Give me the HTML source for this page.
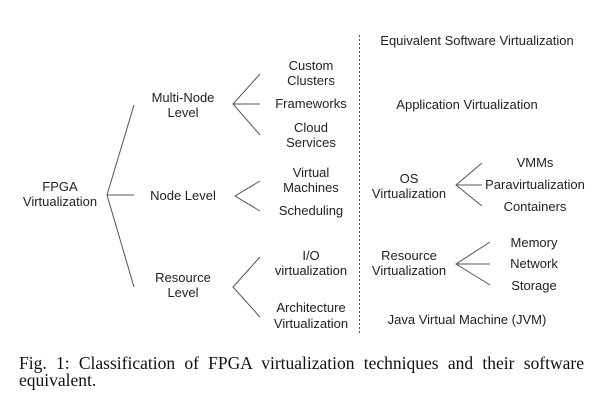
<!DOCTYPE html>
<html><head><meta charset="utf-8"><style>
html,body{margin:0;padding:0;background:#fff;}
body{width:603px;height:401px;position:relative;overflow:hidden;}
svg{position:absolute;left:0;top:0;}
svg text{font-family:"Liberation Sans",sans-serif;font-size:13px;fill:#222;text-anchor:middle;}
.cap{position:absolute;left:19px;top:355px;width:565px;font-family:"Liberation Serif",serif;font-size:17.5px;line-height:16.5px;color:#111;text-align:justify;text-align-last:left;}
</style></head><body>
<svg width="603" height="401" viewBox="0 0 603 401">
<g stroke="#555" stroke-width="1" fill="none">
<path d="M134 105 L107 195 L134 287 M107 195 L134 195"/>
<path d="M260 74 L233 104 L260 135 M233 104 L260 104"/>
<path d="M260 181 L235 196 L260 211"/>
<path d="M260 257 L233 287 L260 317"/>
<path d="M482 163 L456 185 L482 206 M456 185 L482 185"/>
<path d="M490 242 L456 264 L490 285 M456 264 L490 264"/>
<line x1="359.5" y1="35" x2="359.5" y2="333" stroke-dasharray="2,2"/>
</g>
<text x="60" y="191">FPGA</text>
<text x="60" y="206">Virtualization</text>
<text x="183" y="102">Multi-Node</text>
<text x="183" y="117">Level</text>
<text x="183" y="200">Node Level</text>
<text x="183" y="282">Resource</text>
<text x="183" y="297">Level</text>
<text x="311" y="70">Custom</text>
<text x="311" y="85">Clusters</text>
<text x="311" y="108">Frameworks</text>
<text x="311" y="132">Cloud</text>
<text x="311" y="147">Services</text>
<text x="311" y="177">Virtual</text>
<text x="311" y="192">Machines</text>
<text x="311" y="215">Scheduling</text>
<text x="311" y="260">I/O</text>
<text x="311" y="275">virtualization</text>
<text x="311" y="312">Architecture</text>
<text x="311" y="328">Virtualization</text>
<text x="477" y="45">Equivalent Software Virtualization</text>
<text x="467" y="109">Application Virtualization</text>
<text x="409" y="183">OS</text>
<text x="409" y="198">Virtualization</text>
<text x="535" y="167">VMMs</text>
<text x="535" y="189">Paravirtualization</text>
<text x="535" y="211">Containers</text>
<text x="409" y="260">Resource</text>
<text x="409" y="275">Virtualization</text>
<text x="534" y="247">Memory</text>
<text x="534" y="268">Network</text>
<text x="534" y="290">Storage</text>
<text x="467" y="324">Java Virtual Machine (JVM)</text>
</svg>
<div class="cap">Fig. 1: Classification of FPGA virtualization techniques and their software equivalent.</div>
</body></html>
